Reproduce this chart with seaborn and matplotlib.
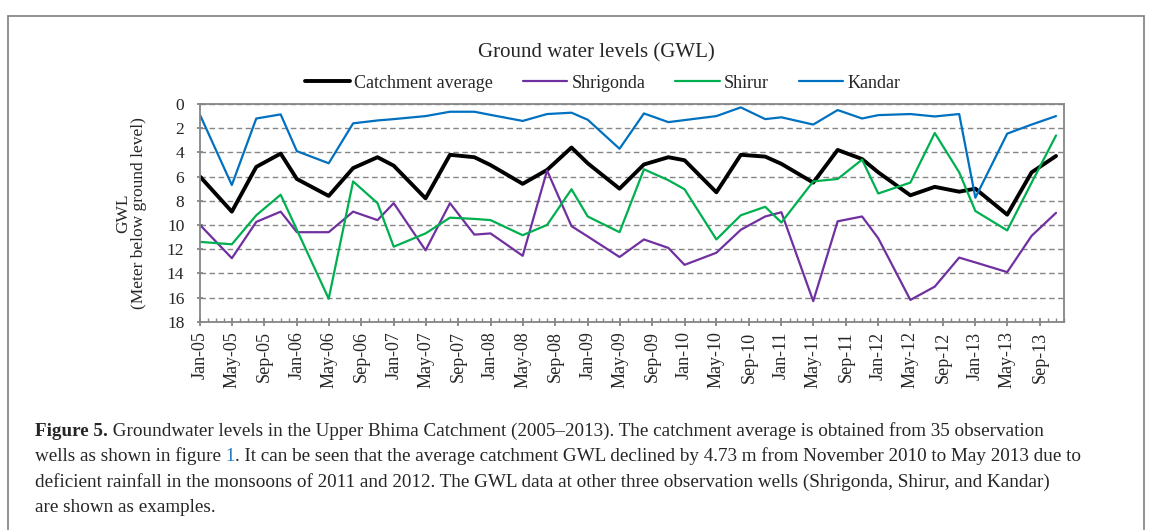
import matplotlib
matplotlib.use("Agg")
import matplotlib.pyplot as plt
import matplotlib.dates as mdates
from matplotlib.lines import Line2D
import seaborn as sns
import pandas as pd

# ---------------- data ----------------
dates = [f"{m}-{y:02d}" for y in range(5, 14) for m in ("Jan", "May", "Aug", "Nov")]

catchment = [6.0, 8.9, 5.2, 4.1, 6.2, 7.6, 5.3, 4.4, 5.1, 7.8, 4.2, 4.4,
             5.05, 6.6, 5.45, 3.6, 4.9, 7.0, 5.0, 4.4, 4.65, 7.3, 4.2, 4.35,
             4.95, 6.5, 3.8, 4.55, 5.65, 7.55, 6.85, 7.25, 7.0, 9.15, 5.65, 4.3]
shrigonda = [10.0, 12.75, 9.75, 8.9, 10.6, 10.6, 8.9, 9.6, 8.2, 12.1, 8.2, 10.8,
             10.7, 12.55, 5.5, 10.1, 10.95, 12.65, 11.2, 11.9, 13.3, 12.3, 10.4, 9.3,
             8.95, 16.3, 9.7, 9.3, 11.1, 16.2, 15.1, 12.7, 13.1, 13.9, 10.9, 9.0]
shirur = [11.4, 11.6, 9.2, 7.5, 10.4, 16.1, 6.4, 8.2, 11.8, 10.7, 9.4, 9.5,
          9.6, 10.85, 10.0, 7.05, 9.3, 10.6, 5.4, 6.3, 7.05, 11.2, 9.2, 8.5,
          9.8, 6.4, 6.2, 4.6, 7.4, 6.5, 2.4, 5.65, 8.85, 10.45, 6.5, 2.6]
kandar = [0.9, 6.7, 1.2, 0.86, 3.9, 4.9, 1.6, 1.36, 1.25, 1.0, 0.64, 0.64,
          0.9, 1.4, 0.83, 0.72, 1.3, 3.7, 0.78, 1.5, 1.33, 1.0, 0.28, 1.25,
          1.1, 1.7, 0.5, 1.2, 0.92, 0.83, 1.03, 0.83, 7.75, 2.45, 1.7, 1.0]

series_names = ["Catchment average", "Shrigonda", "Shirur", "Kandar"]
yticks = [0, 2, 4, 6, 8, 10, 12, 14, 16, 18]

title = "Ground water levels (GWL)"
ylabel = "GWL\n(Meter below ground level)"

# ---------------- style ----------------
colors = {"Catchment average": "#000000", "Shrigonda": "#7030A0",
          "Shirur": "#00B050", "Kandar": "#0070C0"}
widths = {"Catchment average": 2.8, "Shrigonda": 1.6, "Shirur": 1.6, "Kandar": 1.6}
GRAY = "#868686"

sns.set_theme(style="white")
plt.rcParams["font.family"] = ["Liberation Serif", "DejaVu Serif"]

W, H = 1152, 530
fig = plt.figure(figsize=(W / 100, H / 100), dpi=100)
fig.patch.set_facecolor("white")

left, right, top, bottom = 200, 1064, 104, 321.7
ax = fig.add_axes([left / W, 1 - bottom / H, (right - left) / W, (bottom - top) / H])

x = pd.to_datetime(dates, format="%b-%y")
df = pd.DataFrame({"date": list(x) * 4,
                   "GWL": catchment + shrigonda + shirur + kandar,
                   "series": sum([[n] * len(dates) for n in series_names], [])})

sns.lineplot(data=df, x="date", y="GWL", hue="series", hue_order=series_names,
             palette=colors, size="series", size_order=series_names, sizes=widths,
             legend=False, ax=ax, estimator=None, sort=False)

ax.set_xlim(pd.Timestamp("2005-01-01"), pd.Timestamp("2013-12-01"))
ax.set_ylim(18, 0)
ax.set_yticks(yticks)
ax.set_yticklabels([str(t) for t in yticks], fontsize=12.5)
ax.xaxis.set_major_locator(mdates.MonthLocator(bymonth=[1, 5, 9]))
ax.xaxis.set_minor_locator(mdates.MonthLocator())
ax.xaxis.set_major_formatter(mdates.DateFormatter("%b-%y"))
plt.setp(ax.get_xticklabels(), rotation=90, fontsize=13, ha="center", va="top")
ax.set_xlabel("")
ax.set_ylabel(ylabel, fontsize=12.5, linespacing=1.0)
ax.yaxis.set_label_coords(-0.061, 0.5)

ax.grid(False)
ax.yaxis.grid(True, color=GRAY, lw=1.0, ls=(0, (4, 2.5)))
for s in ax.spines.values():
    s.set_color(GRAY)
    s.set_linewidth(1.3)
ax.tick_params(axis="x", which="major", direction="inout", length=6, width=1.3,
               color=GRAY, pad=4, bottom=True)
ax.tick_params(axis="x", which="minor", direction="in", length=3, width=1.0,
               color=GRAY, bottom=True)
ax.tick_params(axis="y", which="major", direction="inout", length=4.5, width=1.3,
               color=GRAY, pad=9, left=True)

# title and legend
fig.text(596 / W, 1 - 57 / H, title, ha="center", va="baseline", fontsize=15)
handles = [Line2D([], [], color=colors[n], lw=widths[n]) for n in series_names]
fig.legend(handles, series_names, loc="center", bbox_to_anchor=(603 / W, 1 - 83 / H),
           ncol=4, frameon=False, fontsize=13, handlelength=2.45, handletextpad=0.25,
           columnspacing=1.65)

# outer frame
fc = "#7f7f7f"
fig.add_artist(Line2D([8 / W, 8 / W], [0, 1 - 16 / H], color=fc, lw=1.2))
fig.add_artist(Line2D([8 / W, 1144 / W], [1 - 16 / H, 1 - 16 / H], color=fc, lw=1.2))
fig.add_artist(Line2D([1144 / W, 1144 / W], [0, 1 - 16 / H], color=fc, lw=1.2))

# caption
renderer = fig.canvas.get_renderer()
cap_size = 13.8
def draw_segments(x_px, y_px, segments):
    xx = x_px
    for text, kw in segments:
        t = fig.text(xx / W, 1 - y_px / H, text, ha="left", va="baseline",
                     fontsize=cap_size, **kw)
        xx += t.get_window_extent(renderer=renderer).width

caption = [
    [("Figure 5.", {"fontweight": "bold"}),
     (" Groundwater levels in the Upper Bhima Catchment (2005\u20132013). The catchment average is obtained from 35 observation", {})],
    [("wells as shown in figure", {}), (" 1", {"color": "#2b7bbf"}),
     (". It can be seen that the average catchment GWL declined by 4.73 m from November 2010 to May 2013 due to", {})],
    [("deficient rainfall in the monsoons of 2011 and 2012. The GWL data at other three observation wells (Shrigonda, Shirur, and Kandar)", {})],
    [("are shown as examples.", {})],
]
for i, segs in enumerate(caption):
    draw_segments(35, 436 + 25.3 * i, segs)

fig.savefig("out.png", dpi=100)
